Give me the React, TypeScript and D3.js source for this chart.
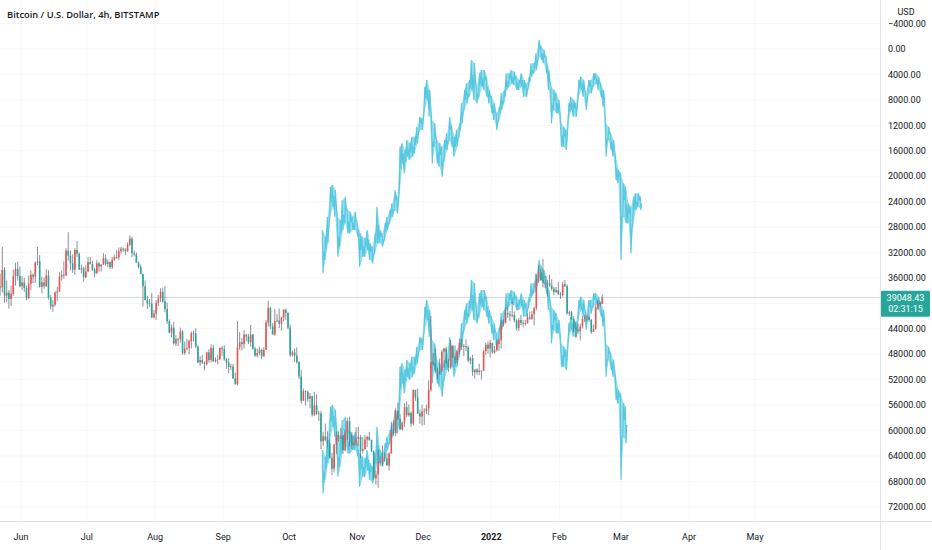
import React from "react";
import * as d3 from "d3";

const W = 932;
const H = 550;
const PANE_R = 880;
const PANE_B = 521;

const title = "Bitcoin / U.S. Dollar, 4h, BITSTAMP";
const currency = "USD";
const lastPriceK = 39.04843;
const lastPriceLabel = "39048.43";
const countdownLabel = "02:31:15";

// daily candles from 2021-05-22 to 2022-02-20, prices in thousands of USD
const candleStartUtc = Date.UTC(2021, 4, 22);
const firstOpenK = 37.3;
const closeK = [
  37.5,34.7,38.8,38.3,39.3,38.5,35.7,34.6,35.7,37.3,
  36.7,37.6,39.2,36.9,35.5,35.8,33.6,33.4,37.4,36.7,37.3,35.6,39.1,40.5,40.2,38.3,38.1,35.8,35.5,35.6,31.7,32.5,33.7,34.7,31.6,32.2,34.7,34.5,35.9,35.0,
  33.5,33.8,34.7,35.3,33.7,34.2,33.9,32.9,33.8,33.5,34.3,33.1,32.7,32.8,31.8,31.4,31.5,31.8,30.8,29.8,32.1,32.3,33.6,34.3,35.4,37.3,39.5,40.0,40.0,42.2,41.6,
  39.9,39.2,38.2,39.7,40.9,42.8,44.6,43.8,46.3,45.6,45.6,44.4,47.8,47.1,47.0,45.9,44.7,44.7,46.8,49.3,48.9,49.3,49.5,47.7,48.9,47.0,49.1,48.9,48.8,47.0,47.2,
  48.8,49.3,50.0,49.9,51.8,52.7,46.9,46.1,46.4,44.9,45.2,46.1,44.9,47.1,48.2,47.8,47.3,48.3,47.3,43.0,40.7,43.6,44.9,42.8,42.7,43.2,42.2,41.0,41.5,43.8,
  48.1,47.7,48.2,49.2,51.5,55.3,53.8,53.9,55.0,54.6,57.5,56.0,57.4,57.3,61.7,60.9,61.5,62.0,64.3,66.0,62.2,60.7,61.3,60.9,63.1,60.3,58.5,60.6,62.3,61.9,61.3,
  61.0,63.2,62.9,61.4,61.0,61.5,63.3,67.5,66.9,64.9,64.9,64.2,64.4,65.5,63.6,60.1,60.4,56.9,58.1,59.8,58.7,56.3,57.6,57.2,58.9,53.6,54.8,57.3,57.8,57.0,
  56.9,56.5,53.6,49.2,49.4,50.6,50.6,50.5,47.6,47.1,49.4,50.1,46.7,48.4,48.9,47.6,46.2,46.8,46.7,46.9,49.0,48.6,50.8,50.4,50.8,50.6,50.6,47.5,46.5,47.1,46.2,
  47.7,47.3,46.4,45.8,43.4,43.1,41.5,41.7,41.9,41.8,42.7,43.9,42.6,43.1,43.2,43.1,42.2,42.4,41.7,40.7,36.5,35.1,36.3,36.7,36.9,36.8,37.2,37.7,38.2,37.9,38.5,
  38.7,37.0,37.3,41.6,41.4,42.4,43.8,44.1,44.4,43.6,42.4,42.2,42.1,42.6,44.5,44.0,40.6,40.0,40.1,39.05,
];
const highK = [
  38.8,38.3,39.9,39.8,40.8,40.4,38.8,37.2,36.4,37.5,
  37.9,38.2,39.5,39.3,37.9,36.8,36.8,34.0,37.5,38.4,37.7,37.4,39.4,41.0,41.3,40.5,39.6,38.2,36.4,36.1,35.7,33.3,34.8,35.2,35.5,32.7,34.7,35.3,36.6,36.0,
  35.0,33.9,34.9,35.9,35.3,35.0,35.0,33.9,34.1,34.3,34.6,34.6,33.3,33.0,33.2,32.2,31.9,32.4,31.9,31.0,32.8,32.6,33.6,34.5,35.4,40.5,39.5,40.9,40.6,42.3,42.4,
  42.6,40.4,39.8,39.9,41.4,43.2,44.7,45.3,46.5,46.7,46.7,46.2,48.1,48.1,47.4,48.0,47.1,46.0,47.0,49.4,49.8,49.5,50.5,49.8,49.3,49.3,49.2,49.3,49.6,48.9,48.2,
  49.0,50.3,51.0,50.5,51.9,52.8,52.9,47.3,47.4,47.1,45.9,46.4,46.8,47.3,48.4,48.5,48.1,48.8,48.4,47.3,43.6,44.0,44.9,45.1,42.9,43.9,44.3,42.8,42.6,44.1,
  48.4,48.3,49.2,49.5,51.9,55.8,55.3,56.1,55.5,56.5,57.8,57.7,57.5,58.5,62.9,62.4,61.7,62.6,64.4,67.0,66.6,63.7,61.7,61.4,63.7,63.3,61.5,62.5,62.9,62.3,62.4,
  62.5,64.3,63.6,63.1,62.6,61.6,63.3,67.8,68.5,69.0,65.6,65.5,64.9,65.5,66.3,63.6,60.8,60.9,58.3,59.9,60.0,59.4,57.9,57.8,59.4,59.2,55.3,57.4,58.9,59.2,
  59.1,57.4,57.6,53.9,49.7,51.0,51.9,51.2,50.8,50.1,49.5,50.8,50.3,48.6,49.5,49.4,48.0,47.3,48.3,47.5,49.3,49.6,51.4,51.8,51.2,51.3,52.0,50.6,48.1,47.9,48.5,
  47.9,47.9,47.6,47.5,47.1,43.7,43.1,42.3,42.8,42.2,43.0,44.3,44.4,43.4,43.8,43.5,43.2,42.6,42.6,43.5,41.1,36.8,36.5,37.5,37.6,38.9,37.4,38.0,38.7,38.4,38.7,
  39.3,38.9,37.4,41.7,42.0,42.6,44.5,45.4,44.8,45.8,43.9,42.9,42.7,42.9,44.8,44.5,44.1,40.9,40.5,40.1,
];
const lowK = [
  35.3,31.1,34.3,36.4,37.9,37.2,34.7,33.6,33.4,34.2,
  35.7,36.0,37.2,35.6,34.8,35.3,33.4,31.1,32.4,35.8,35.9,34.6,34.8,38.7,39.5,38.1,37.4,35.1,34.8,33.4,31.3,28.8,31.7,32.3,31.3,30.2,32.0,33.9,34.2,34.0,
  32.7,32.7,33.3,34.4,33.2,33.5,33.8,32.1,32.3,33.1,33.4,32.7,32.3,31.6,31.2,31.1,31.2,31.3,30.4,29.3,29.5,31.7,32.0,33.4,33.9,35.3,36.4,38.8,39.3,38.3,41.0,
  39.5,38.7,37.6,37.5,37.3,39.9,42.5,43.3,42.9,45.0,45.4,43.8,44.2,46.0,45.6,45.7,44.4,44.3,43.9,46.6,48.3,48.1,49.1,47.6,47.2,46.4,46.5,48.5,48.1,46.9,46.7,
  46.6,48.6,48.6,49.5,49.5,50.9,42.8,44.5,45.5,44.2,44.8,44.8,43.4,44.8,46.8,47.1,46.8,47.1,46.9,42.6,39.6,40.6,43.1,40.9,41.7,40.8,42.1,40.9,40.8,41.4,
  43.3,47.4,47.1,46.9,49.1,50.4,53.4,53.7,53.7,54.1,54.5,53.9,54.3,56.9,56.9,60.2,58.9,60.1,61.4,63.5,62.1,60.1,60.1,59.6,60.7,59.9,58.0,57.8,60.2,60.8,59.5,
  59.4,60.7,61.0,60.7,60.8,60.2,61.4,63.1,66.3,63.0,64.1,62.3,63.4,63.6,63.4,58.6,58.4,56.5,55.6,57.4,58.6,55.7,55.4,55.9,57.0,53.5,53.6,53.4,56.7,55.9,
  56.5,55.9,52.1,42.0,47.8,47.1,50.1,48.7,47.3,47.0,46.8,48.7,45.7,46.5,46.6,47.5,45.5,45.6,46.4,45.6,46.6,48.4,48.1,50.4,50.2,49.5,50.5,47.3,46.2,46.0,45.7,
  46.2,46.7,45.7,45.5,42.6,42.5,40.6,40.5,41.2,39.7,41.3,42.5,42.3,41.8,42.6,42.6,41.6,41.3,41.2,40.6,35.5,34.0,34.6,33.0,35.7,36.3,35.5,36.2,37.4,37.4,36.6,
  38.2,36.6,36.3,37.0,41.1,41.2,42.0,42.8,43.2,43.2,42.0,41.8,41.9,41.6,42.4,43.3,40.1,39.5,39.7,38.6,
];

// cyan "bars pattern" drawing, upper copy (thousands of USD)
const cyanStartUtc = Date.UTC(2021, 9, 16, 10);
const cyanEndUtc = Date.UTC(2022, 2, 10, 2);
const cyanLoK = [
  28.46,29.51,26.36,21.65,21.38,22.17,26.36,26.89,23.74,23.22,
  25.31,25.58,26.36,25.58,27.41,28.98,29.51,29.77,28.46,30.55,
  31.08,28.98,24.79,28.46,28.98,27.41,26.36,25.31,24.27,22.17,
  23.22,15.36,14.83,15.88,14.31,14.83,13.78,13.78,12.21,10.64,
  10.90,5.92,4.87,6.45,11.16,11.69,14.31,14.83,15.36,14.31,
  13.26,10.64,12.21,13.78,12.74,11.69,8.54,6.45,5.40,4.87,
  1.73,2.25,
  5.92,3.82,3.30,3.30,4.35,6.45,7.50,8.54,10.11,9.07,
  6.97,6.45,3.82,3.82,3.30,3.56,4.35,4.87,3.82,4.87,
  5.40,4.35,2.25,2.25,0.68,-1.42,-0.37,0.16,1.21,3.30,
  5.92,6.45,6.97,8.02,11.69,12.21,12.74,8.54,7.50,8.02,
  8.54,4.87,4.35,4.87,6.97,4.87,4.87,3.82,3.82,4.35,
  5.40,6.45,11.69,12.21,13.26,14.31,16.93,19.03,19.55,21.12,
  21.65,24.27,24.79,23.22,22.69,22.69,23.22,
];
const cyanHiK = [
  35.27,33.18,30.55,26.36,24.79,26.36,32.65,31.08,28.46,27.41,
  28.98,28.98,28.46,28.46,29.51,34.22,32.65,32.65,31.60,33.18,
  33.70,32.13,30.55,30.55,31.08,30.03,28.46,27.41,26.36,25.31,
  25.84,22.17,17.98,19.55,16.93,17.45,16.93,16.40,14.83,12.74,
  12.74,9.59,8.02,10.64,17.98,15.36,17.98,18.50,20.07,17.45,
  15.88,14.31,15.36,16.93,15.36,13.78,11.69,9.59,8.54,7.50,
  6.45,8.02,
  8.54,7.50,5.92,6.45,7.50,8.54,10.11,11.16,12.74,11.16,
  9.59,8.54,6.45,5.92,5.40,5.66,6.45,6.45,5.92,7.50,
  7.50,5.92,4.35,3.82,3.30,1.21,1.73,2.25,3.82,6.45,
  11.69,9.59,10.11,10.11,15.36,15.36,15.88,11.16,9.59,10.64,
  10.64,7.50,6.45,7.50,9.59,6.97,6.97,5.92,5.40,6.45,
  7.50,9.07,16.93,14.31,15.88,16.93,20.60,21.12,33.18,26.36,
  27.41,27.41,32.13,27.41,25.31,24.79,25.31,
];
const lowerCopyCount = 123;
const lowerCopyShiftK = 34.6;

const priceTicksK = [-4, 0, 4, 8, 12, 16, 20, 24, 28, 32, 36, 40, 44, 48, 52, 56, 60, 64, 68, 72];
const monthTickDates = [
  "2021-06-01", "2021-07-01", "2021-08-01", "2021-09-01", "2021-10-01", "2021-11-01",
  "2021-12-01", "2022-01-01", "2022-02-01", "2022-03-01", "2022-04-01", "2022-05-01",
];
const monthTickLabels = ["Jun", "Jul", "Aug", "Sep", "Oct", "Nov", "Dec", "2022", "Feb", "Mar", "Apr", "May"];

const UP = "#26a69a";
const DOWN = "#ef5350";
const CYAN = "#56c8df";
const TEXT = "#131722";
const FONT = "Roboto, 'DejaVu Sans', sans-serif";

const DAY = 86400000;

type Band = { t: number; lo: number; hi: number };

export default function App() {
  const x = d3.scaleUtc().domain([Date.UTC(2021, 5, 1), Date.UTC(2022, 4, 1)]).range([21, 755]);
  const y = d3.scaleLinear().domain([-4, 72]).range([23.6, 506.9]);

  const candles = closeK.map((c, i) => {
    const o = i === 0 ? firstOpenK : closeK[i - 1];
    return { t: candleStartUtc + i * DAY + DAY / 2, o, c, h: highK[i], l: lowK[i] };
  });

  const cyanIdx = d3.scaleLinear().domain([0, cyanLoK.length - 1]).range([cyanStartUtc, cyanEndUtc]);
  const cyan: Band[] = cyanLoK.map((lo, i) => ({ t: cyanIdx(i), lo, hi: cyanHiK[i] }));
  const cyanLower: Band[] = cyan.slice(0, lowerCopyCount).map((d) => ({
    t: d.t,
    lo: d.lo + lowerCopyShiftK,
    hi: d.hi + lowerCopyShiftK,
  }));

  const band = d3
    .area<Band>()
    .x((d) => x(d.t))
    .y0((d) => y(d.lo))
    .y1((d) => y(d.hi))
    .curve(d3.curveLinear);

  const zig = d3.line<[number, number]>().curve(d3.curveLinear);
  const zigPoints = (data: Band[]) => {
    const pts: [number, number][] = [];
    data.forEach((d, i) => {
      const cx = x(d.t);
      const a = y(d.lo);
      const b = y(d.hi);
      if (i % 2 === 0) {
        pts.push([cx - 0.7, a], [cx, b], [cx + 0.7, (a + b) / 2]);
      } else {
        pts.push([cx - 0.7, b], [cx, a], [cx + 0.7, (a + b) / 2]);
      }
    });
    return pts;
  };

  const lastY = y(lastPriceK);
  const bodyW = 1.6;

  const renderCyan = (data: Band[], key: string) => (
    <g key={key}>
      <path d={band(data) || ""} fill={CYAN} fillOpacity={0.6} stroke="none" />
      <path d={zig(zigPoints(data)) || ""} fill="none" stroke={CYAN} strokeWidth={1.1} strokeLinejoin="miter" />
    </g>
  );

  return (
    <div style={{ position: "absolute", left: 0, top: 0, width: W, height: H, background: "#fff" }}>
      <svg width={W} height={H} style={{ display: "block", fontFamily: FONT }}>
        <defs>
          <clipPath id="pane">
            <rect x={0} y={0} width={PANE_R} height={PANE_B} />
          </clipPath>
        </defs>
        <rect x={0} y={0} width={W} height={H} fill="#ffffff" />

        {/* grid */}
        <g clipPath="url(#pane)">
          {priceTicksK.map((v) => (
            <line key={"h" + v} x1={0} x2={PANE_R} y1={y(v)} y2={y(v)} stroke="#f6f7f9" strokeWidth={1} />
          ))}
          {monthTickDates.map((s) => {
            const xx = x(new Date(s + "T00:00:00Z"));
            return <line key={"v" + s} x1={xx} x2={xx} y1={0} y2={PANE_B} stroke="#f6f7f9" strokeWidth={1} />;
          })}
        </g>

        {/* price line */}
        <line x1={0} x2={PANE_R} y1={lastY} y2={lastY} stroke="#d3dbe0" strokeWidth={1} />

        <g clipPath="url(#pane)">
          {renderCyan(cyan, "upper")}
          {renderCyan(cyanLower, "lower")}

          {candles.map((d, i) => {
            const up = d.c >= d.o;
            const col = up ? UP : DOWN;
            const cx = x(d.t);
            const y1 = y(Math.min(d.o, d.c));
            const y2 = y(Math.max(d.o, d.c));
            return (
              <g key={i}>
                <line x1={cx} x2={cx} y1={y(d.l)} y2={y(d.h)} stroke="#5d6270" strokeWidth={0.7} />
                <rect x={cx - bodyW / 2} y={y1} width={bodyW} height={Math.max(0.8, y2 - y1)} fill={col} />
              </g>
            );
          })}
        </g>

        {/* title */}
        <text x={7} y={18} fontSize={9.3} fontWeight={600} fill={TEXT} fontFamily="'Open Sans', sans-serif">
          {title}
        </text>

        {/* axes borders */}
        <line x1={PANE_R + 0.5} x2={PANE_R + 0.5} y1={0} y2={H} stroke="#e0e3eb" strokeWidth={1} />
        <line x1={0} x2={W} y1={PANE_B + 0.5} y2={PANE_B + 0.5} stroke="#e0e3eb" strokeWidth={1} />

        {/* price axis */}
        <text x={906} y={15} fontSize={9} fill={TEXT} textAnchor="middle">
          {currency}
        </text>
        {priceTicksK.map((v) =>
          Math.abs(y(v) - lastY) < 14 ? null : (
            <text key={"pt" + v} x={888} y={y(v) + 3.2} fontSize={9} fill={TEXT}>
              {(v < 0 ? "\u2212" : "") + Math.abs(v * 1000).toFixed(2)}
            </text>
          )
        )}
        <rect x={881} y={lastY - 6.5} width={49} height={26} fill={UP} rx={1} />
        <text x={905.5} y={lastY + 3.2} fontSize={9} fill="#ffffff" textAnchor="middle">
          {lastPriceLabel}
        </text>
        <text x={905.5} y={lastY + 15} fontSize={9} fill="#ffffff" textAnchor="middle">
          {countdownLabel}
        </text>

        {/* time axis */}
        {monthTickDates.map((s, i) => (
          <text
            key={"mt" + s}
            x={x(new Date(s + "T00:00:00Z"))}
            y={540}
            fontSize={9}
            fill={TEXT}
            textAnchor="middle"
            fontWeight={monthTickLabels[i] === "2022" ? 700 : 400}
          >
            {monthTickLabels[i]}
          </text>
        ))}
      </svg>
    </div>
  );
}
